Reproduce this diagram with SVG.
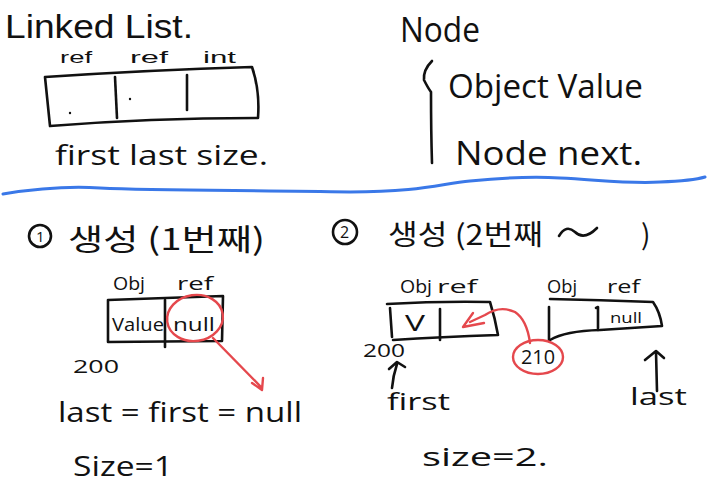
<svg xmlns="http://www.w3.org/2000/svg" width="708" height="484" viewBox="0 0 708 484">
<style>
.t{font-family:"Open Sans","Noto Sans","Noto Sans CJK KR",sans-serif;fill:#111;}
.l{font-family:"Liberation Sans","Open Sans",sans-serif;fill:#111;}
.k{font-family:"Noto Sans CJK KR","Noto Sans",sans-serif;fill:#111;}
.s{fill:none;stroke:#111;stroke-width:2.6;stroke-linecap:round;stroke-linejoin:round;}
.r{fill:none;stroke:#e5484d;stroke-width:2.4;stroke-linecap:round;stroke-linejoin:round;}
</style>
<rect width="708" height="484" fill="#fff"/>

<!-- Linked list header -->
<g id="linkedlist">
<text class="l" x="5" y="38" font-size="34" textLength="188" lengthAdjust="spacingAndGlyphs">Linked List.</text>
<text class="l" x="60" y="63" font-size="16" textLength="32" lengthAdjust="spacingAndGlyphs">ref</text>
<text class="l" x="130" y="63" font-size="16" textLength="38" lengthAdjust="spacingAndGlyphs">ref</text>
<text class="l" x="203" y="63" font-size="16" textLength="33" lengthAdjust="spacingAndGlyphs">int</text>
<path class="s" d="M45,77 Q150,70 252,67 Q260,90 258,118 Q150,118 50,126 L45,77"/>
<path class="s" d="M115,77 L117,118"/>
<path class="s" d="M187,75 L187,110"/>
<circle cx="70" cy="113" r="1.2" fill="#111"/>
<circle cx="130" cy="99" r="1.2" fill="#111"/>
<text class="t" x="55" y="165" font-size="28" textLength="213" lengthAdjust="spacingAndGlyphs">first last size.</text>
</g>

<!-- Node definition -->
<g id="node-def">
<text class="t" x="400" y="42" font-size="34" textLength="80" lengthAdjust="spacingAndGlyphs">Node</text>
<path class="s" d="M432,61 Q423,70 424,80 Q428,88 431,92 Q431,130 432,163"/>
<text class="t" x="448" y="98" font-size="32" textLength="195" lengthAdjust="spacingAndGlyphs">Object Value</text>
<text class="t" x="455" y="165" font-size="32" textLength="187" lengthAdjust="spacingAndGlyphs">Node next.</text>
</g>

<!-- divider -->
<path d="M3,194 C40,188 70,186 100,188 C160,191 250,190 350,192 C420,192 440,184 470,181 C500,178 530,176 560,178 C600,180 630,184 660,182 C685,181 695,180 705,177" fill="none" stroke="#3a78e8" stroke-width="3" stroke-linecap="round"/>

<!-- Section 1 -->
<g id="sec1-title">
<circle class="s" cx="40" cy="236" r="11" stroke-width="2.2"/>
<text class="t" x="36" y="242" font-size="15">1</text>
<text class="k" x="68" y="250" font-size="30" textLength="197" lengthAdjust="spacingAndGlyphs">생성 (1번째)</text>
</g>
<g id="sec1-node">
<text class="t" x="113" y="290" font-size="18" textLength="32" lengthAdjust="spacingAndGlyphs">Obj</text>
<text class="t" x="177" y="290" font-size="18" textLength="36" lengthAdjust="spacingAndGlyphs">ref</text>
<path class="s" d="M108,300 L223,296 L222,341 L108,342 Z"/>
<path class="s" d="M165,300 L165,347"/>
<text class="t" x="112" y="331" font-size="19" textLength="52" lengthAdjust="spacingAndGlyphs">Value</text>
<text class="t" x="173" y="331" font-size="19" textLength="42" lengthAdjust="spacingAndGlyphs">null</text>
<text class="t" x="73" y="373" font-size="18" textLength="46" lengthAdjust="spacingAndGlyphs">200</text>
</g>
<g id="sec1-text">
<text class="t" x="58" y="422" font-size="28" textLength="244" lengthAdjust="spacingAndGlyphs">last = first = null</text>
<text class="t" x="73" y="476" font-size="28" textLength="100" lengthAdjust="spacingAndGlyphs">Size=1</text>
</g>

<!-- Section 2 -->
<g id="sec2-title">
<circle class="s" cx="345" cy="232" r="12" stroke-width="2.2"/>
<text class="t" x="340" y="238" font-size="16">2</text>
<text class="k" x="388" y="245" font-size="28" textLength="155" lengthAdjust="spacingAndGlyphs">생성 (2번째</text>
<path class="s" d="M559,236 Q566,224 575,232 Q584,241 597,228"/>
<text class="k" x="641" y="245" font-size="28">)</text>
</g>
<g id="sec2-node1">
<text class="t" x="400" y="293" font-size="18" textLength="32" lengthAdjust="spacingAndGlyphs">Obj</text>
<text class="t" x="437" y="293" font-size="18" textLength="40" lengthAdjust="spacingAndGlyphs">ref</text>
<path class="s" d="M387,304 Q440,301 490,302 Q495,318 498,335 Q440,337 393,340"/>
<path class="s" d="M390,308 L392,337"/>
<path class="s" d="M440,309 L440,340"/>
<text class="t" x="405" y="331" font-size="22" textLength="20" lengthAdjust="spacingAndGlyphs">V</text>
<text class="t" x="363" y="357" font-size="18" textLength="42" lengthAdjust="spacingAndGlyphs">200</text>
<path class="s" d="M389,369 L397,362 L405,367 M397,364 Q393,376 392,388"/>
<text class="t" x="387" y="410" font-size="24" textLength="63" lengthAdjust="spacingAndGlyphs">first</text>
</g>
<g id="sec2-node2">
<text class="t" x="547" y="293" font-size="18" textLength="30" lengthAdjust="spacingAndGlyphs">Obj</text>
<text class="t" x="607" y="293" font-size="18" textLength="33" lengthAdjust="spacingAndGlyphs">ref</text>
<path class="s" d="M550,299 Q600,300 653,302 Q660,312 662,326 L600,330 Q565,331 550,340"/>
<path class="s" d="M549,307 L549,340"/>
<path class="s" d="M596,308 L598,307 L598,330"/>
<text class="t" x="610" y="323" font-size="14" textLength="32" lengthAdjust="spacingAndGlyphs">null</text>
<path class="s" d="M645,360 L656,351 L664,358 M656,352 L657,391"/>
<text class="t" x="630" y="405" font-size="24" textLength="57" lengthAdjust="spacingAndGlyphs">last</text>
</g>
<g id="sec2-text">
<text class="t" x="422" y="466" font-size="26" textLength="126" lengthAdjust="spacingAndGlyphs">size=2.</text>
</g>

<!-- connectors -->
<g id="connectors">
<ellipse class="r" cx="195" cy="318" rx="28" ry="23" transform="rotate(-8 195 318)"/>
<path class="r" d="M213,338 L262,388 M252,383 L262,390 L263,378"/>
<ellipse class="r" cx="538" cy="357" rx="25" ry="17"/>
<text class="t" x="521" y="364" font-size="20" textLength="34" lengthAdjust="spacingAndGlyphs">210</text>
<path class="r" d="M530,343 Q527,320 515,312 Q500,305 485,315 L470,322"/>
<path class="r" d="M473,313 L463,327 L484,323"/>
</g>
</svg>
